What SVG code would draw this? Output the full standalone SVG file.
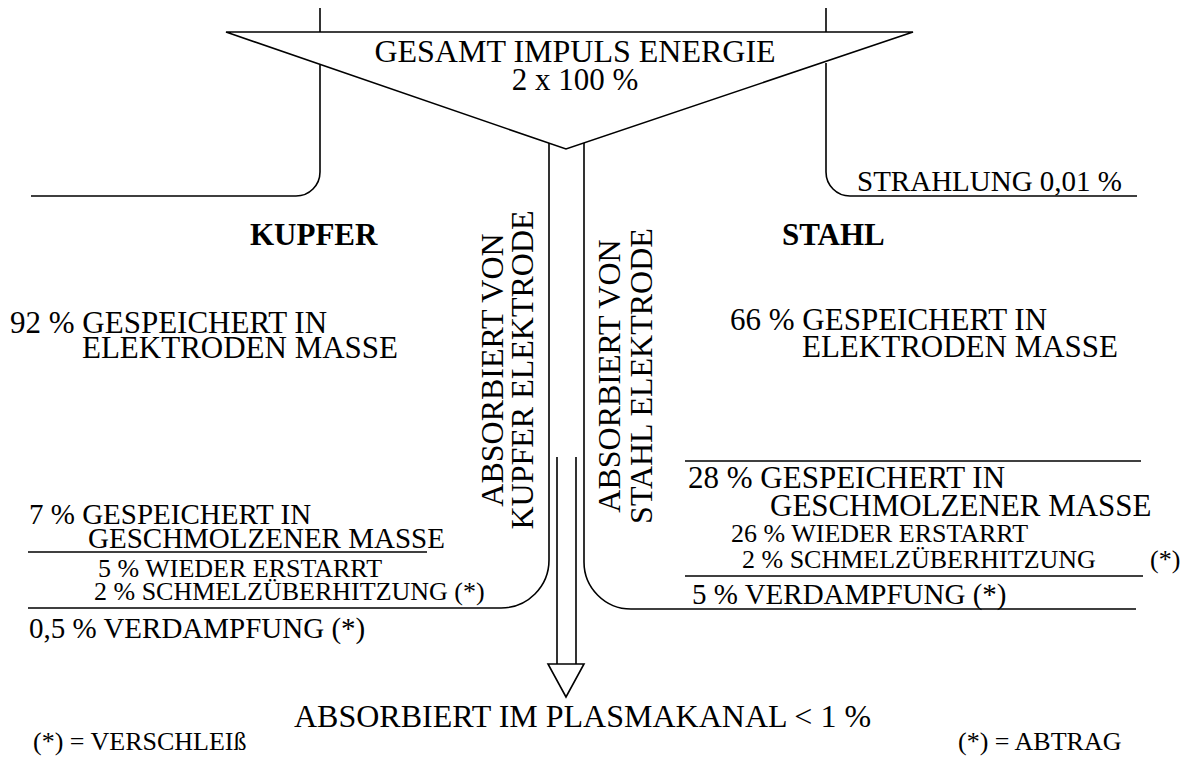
<svg xmlns="http://www.w3.org/2000/svg" width="1186" height="760" viewBox="0 0 1186 760">
  <style>
    text { font-family: "Liberation Serif", "Times New Roman", serif; fill: #000; }
    .big { font-size: 31px; }
    .mid { font-size: 29px; }
    .small { font-size: 26px; }
    .head { font-size: 31px; font-weight: bold; }
    .vert { font-size: 32px; text-anchor: middle; }
    .ln { fill: none; stroke: #000; stroke-width: 1.6; }
  </style>

  <!-- energy flow lines -->
  <g id="connectors">
    <!-- supply lines into the total-energy funnel -->
    <path class="ln" d="M320,8 V32"/>
    <path class="ln" d="M826,8 V32"/>
    <!-- radiation branches -->
    <path class="ln" d="M320,65 V172 A24,24 0 0 1 296,196 H31"/>
    <path class="ln" d="M826,63 V172 A24,24 0 0 0 850,196 H1137"/>
    <!-- absorption channel walls -->
    <path class="ln" d="M549,143 V560 A48,48 0 0 1 501,608 H28"/>
    <path class="ln" d="M584,143 V562 A47,47 0 0 0 631,609 H1136"/>
    <!-- separator lines -->
    <path class="ln" d="M28,552 H427"/>
    <path class="ln" d="M685,461 H1141"/>
    <path class="ln" d="M685,576 H1143"/>
    <!-- plasma channel arrow -->
    <path class="ln" d="M557,457 V664 M576,457 V664"/>
    <polygon class="ln" points="548,664 584,664 566,697"/>
  </g>

  <g id="total-energy">
    <polygon class="ln" points="226,32 913,32 566,149"/>
    <text x="575" y="62" text-anchor="middle" style="font-size:32px">GESAMT IMPULS ENERGIE</text>
    <text class="big" x="575" y="90" text-anchor="middle">2 x 100 %</text>
  </g>

  <g id="radiation">
    <text class="mid" x="857" y="191">STRAHLUNG 0,01 %</text>
  </g>

  <g id="copper">
    <text class="head" x="250" y="245">KUPFER</text>
    <text class="big" x="10" y="333">92 % GESPEICHERT IN</text>
    <text class="big" x="82" y="358">ELEKTRODEN MASSE</text>
    <text class="mid" x="29" y="524">7 % GESPEICHERT IN</text>
    <text class="mid" x="88" y="548">GESCHMOLZENER MASSE</text>
    <text class="small" x="98" y="577">5 % WIEDER ERSTARRT</text>
    <text class="small" x="94" y="600">2 % SCHMELZÜBERHITZUNG (*)</text>
    <text class="mid" x="29" y="638">0,5 % VERDAMPFUNG (*)</text>
  </g>

  <g id="steel">
    <text class="head" x="782" y="245">STAHL</text>
    <text class="big" x="730" y="330">66 % GESPEICHERT IN</text>
    <text class="big" x="802" y="357">ELEKTRODEN MASSE</text>
    <text class="big" x="688" y="488">28 % GESPEICHERT IN</text>
    <text class="big" x="770" y="516">GESCHMOLZENER MASSE</text>
    <text class="small" x="731" y="542">26 % WIEDER ERSTARRT</text>
    <text class="small" x="742" y="568">2 % SCHMELZÜBERHITZUNG</text>
    <text class="small" x="1150" y="568">(*)</text>
    <text class="mid" x="692" y="604">5 % VERDAMPFUNG (*)</text>
  </g>

  <g id="copper-electrode">
    <text class="vert" transform="translate(503,370) rotate(-90)">ABSORBIERT VON</text>
    <text class="vert" transform="translate(533,370) rotate(-90)">KUPFER ELEKTRODE</text>
  </g>

  <g id="steel-electrode">
    <text class="vert" transform="translate(620,376) rotate(-90)">ABSORBIERT VON</text>
    <text class="vert" transform="translate(652,376) rotate(-90)">STAHL ELEKTRODE</text>
  </g>

  <g id="plasma">
    <text x="294" y="727" style="font-size:32px">ABSORBIERT IM PLASMAKANAL &lt; 1 %</text>
  </g>

  <g id="legend">
    <text class="small" x="33" y="750">(*) = VERSCHLEIß</text>
    <text class="small" x="958" y="750">(*) = ABTRAG</text>
  </g>
</svg>
